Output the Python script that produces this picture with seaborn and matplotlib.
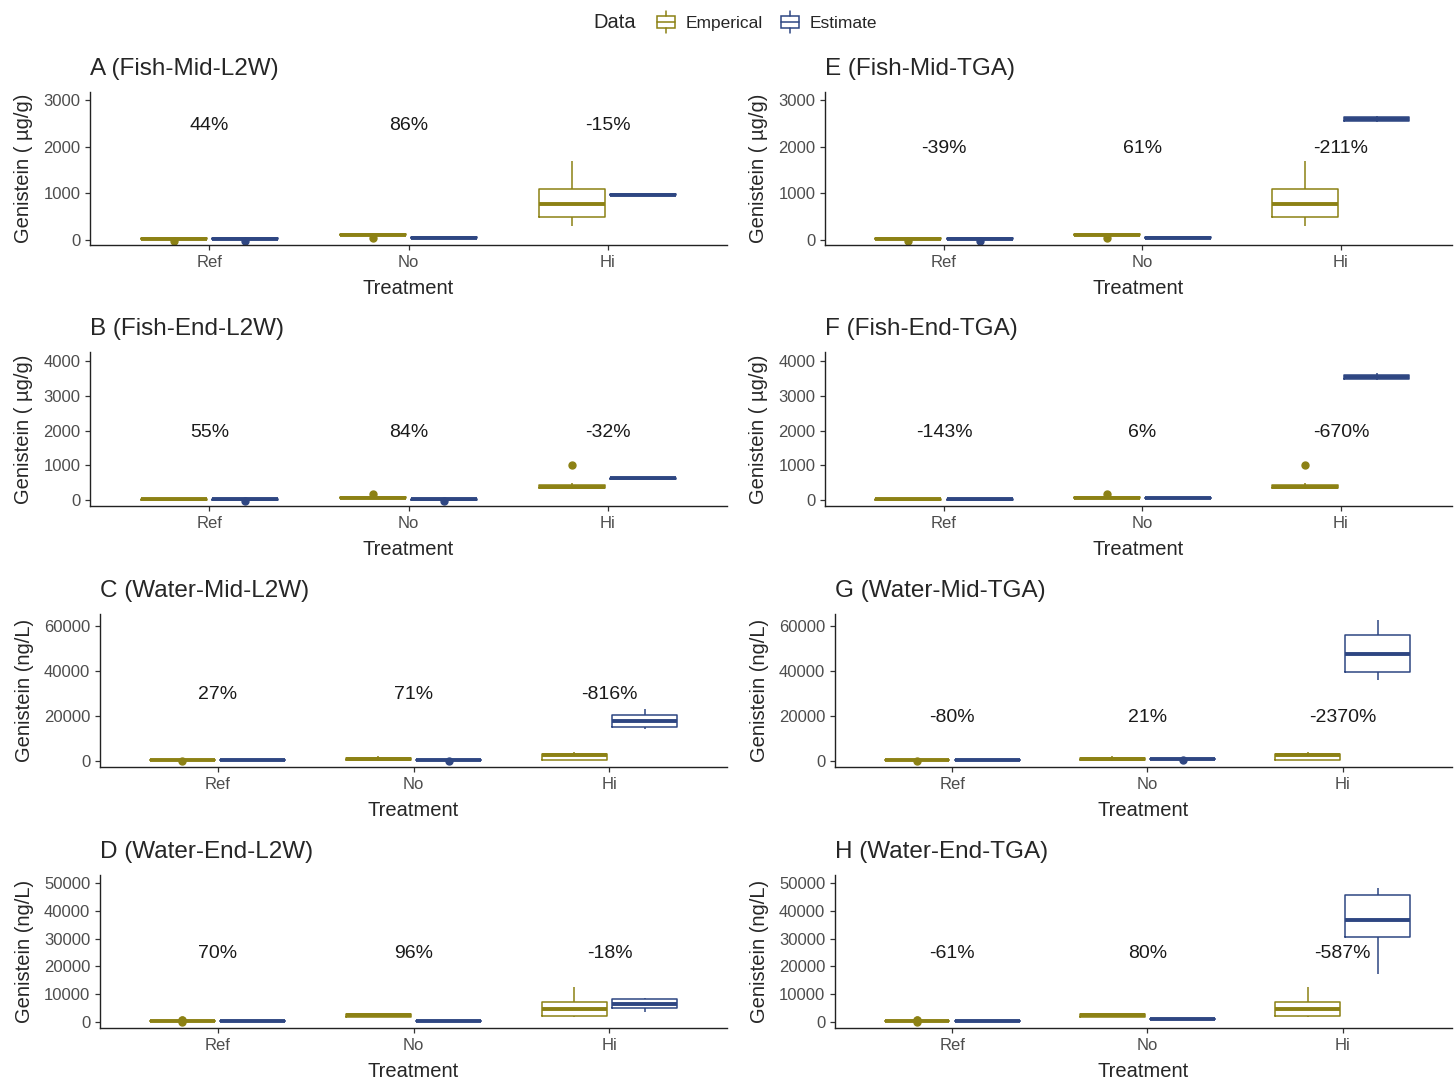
import pandas as pd
import matplotlib
matplotlib.use("Agg")
import matplotlib.pyplot as plt
from matplotlib.patches import Patch, Rectangle
from matplotlib.lines import Line2D
from matplotlib.legend_handler import HandlerBase
import seaborn as sns

# ---------------------------
# Data
# ---------------------------
treatments = ["Ref", "No", "Hi"]
groups = ["Emperical", "Estimate"]
colors = ["#8C8114", "#2E4682"]

# empirical samples (same for L2W and TGA panels), one list per treatment
fish_mid_emp = [[-25, 5, 10, 15, 20, 25, 30, 40, 40],
                [30, 90, 95, 105, 115, 125, 135, 145, 145],
                [290, 480, 770, 1080, 1690]]
fish_end_emp = [[0, 10, 20, 30, 40],
                [30, 40, 50, 60, 70, 80, 90, 100, 170],
                [320, 330, 340, 360, 380, 405, 430, 480, 1000]]
water_mid_emp = [[0, 200, 400, 450, 500, 550, 600, 800, 800],
                 [200, 400, 900, 1500, 2000],
                 [400, 450, 2600, 3300, 4000]]
water_end_emp = [[0, 200, 300, 325, 350, 375, 400, 600, 600],
                 [1800, 1900, 2400, 2800, 2900],
                 [1800, 2160, 4570, 7200, 12600]]

# model estimates
fish_mid_l2w = [[-20, 10, 15, 18, 22, 26, 30, 35, 35],
                [38, 42, 50, 58, 62],
                [955, 962, 970, 978, 985]]
fish_mid_tga = [[-20, 10, 15, 18, 22, 26, 30, 35, 35],
                [38, 42, 50, 58, 62],
                [2520, 2540, 2590, 2640, 2660]]
fish_end_l2w = [[-20, 10, 15, 18, 22, 26, 30, 35, 35],
                [-20, 5, 10, 14, 18, 22, 26, 30, 30],
                [610, 618, 625, 632, 640]]
fish_end_tga = [[10, 15, 20, 25, 30],
                [50, 58, 65, 72, 80],
                [3460, 3470, 3540, 3600, 3650]]
water_mid_l2w = [[350, 400, 450, 500, 550],
                 [0, 300, 350, 400, 450, 500, 550, 600, 600],
                 [14200, 14900, 17760, 20600, 23300]]
water_mid_tga = [[350, 400, 450, 500, 550],
                 [400, 700, 800, 850, 900, 950, 1000, 1100, 1100],
                 [36100, 39550, 47460, 55970, 62540]]
water_end_l2w = [[250, 300, 350, 400, 450],
                 [250, 300, 360, 420, 470],
                 [3600, 5050, 6370, 8170, 8770]]
water_end_tga = [[250, 300, 350, 400, 450],
                 [850, 900, 960, 1020, 1070],
                 [17430, 30410, 36780, 45670, 48200]]

# percentage labels
pct_A = ["44%", "86%", "-15%"]
pct_B = ["55%", "84%", "-32%"]
pct_C = ["27%", "71%", "-816%"]
pct_D = ["70%", "96%", "-18%"]
pct_E = ["-39%", "61%", "-211%"]
pct_F = ["-143%", "6%", "-670%"]
pct_G = ["-80%", "21%", "-2370%"]
pct_H = ["-61%", "80%", "-587%"]

fish_label = "Genistein ( \u00b5g/g)"
water_label = "Genistein (ng/L)"

fish_mid_ticks = [0, 1000, 2000, 3000]
fish_end_ticks = [0, 1000, 2000, 3000, 4000]
water_mid_ticks = [0, 20000, 40000, 60000]
water_end_ticks = [0, 10000, 20000, 30000, 40000, 50000]

# title, empirical, estimate, ylabel, ylim, yticks, labels, label height, axes box in px (l, t, r, b), xlim right
panels = [
    ("A (Fish-Mid-L2W)", fish_mid_emp, fish_mid_l2w, fish_label, (-110, 3170), fish_mid_ticks, pct_A, 2450, (90, 92, 727, 245), 2.6),
    ("B (Fish-End-L2W)", fish_end_emp, fish_end_l2w, fish_label, (-170, 4260), fish_end_ticks, pct_B, 1950, (90, 352, 727, 506), 2.6),
    ("C (Water-Mid-L2W)", water_mid_emp, water_mid_l2w, water_label, (-2670, 65300), water_mid_ticks, pct_C, 29500, (100, 614, 727, 767), 2.6),
    ("D (Water-End-L2W)", water_end_emp, water_end_l2w, water_label, (-2160, 52900), water_end_ticks, pct_D, 24500, (100, 875, 727, 1028), 2.6),
    ("E (Fish-Mid-TGA)", fish_mid_emp, fish_mid_tga, fish_label, (-110, 3170), fish_mid_ticks, pct_E, 1950, (825, 92, 1452, 245), 2.56),
    ("F (Fish-End-TGA)", fish_end_emp, fish_end_tga, fish_label, (-170, 4260), fish_end_ticks, pct_F, 1950, (825, 352, 1452, 506), 2.56),
    ("G (Water-Mid-TGA)", water_mid_emp, water_mid_tga, water_label, (-2670, 65300), water_mid_ticks, pct_G, 19500, (835, 614, 1452, 767), 2.56),
    ("H (Water-End-TGA)", water_end_emp, water_end_tga, water_label, (-2160, 52900), water_end_ticks, pct_H, 24500, (835, 875, 1452, 1028), 2.56),
]


def long_df(emp, est):
    rows = []
    for g, series in zip(groups, [emp, est]):
        for t, vals in zip(treatments, series):
            for v in vals:
                rows.append((t, g, v))
    return pd.DataFrame(rows, columns=["Treatment", "Data", "Genistein"])


class BoxHandler(HandlerBase):
    # small box-and-whisker legend key, like ggplot
    def create_artists(self, legend, orig_handle, xdescent, ydescent,
                       width, height, fontsize, trans):
        c = orig_handle.get_edgecolor()
        x0, y0 = -xdescent, -ydescent
        rect = Rectangle((x0 + width * 0.1, y0 + height * 0.2), width * 0.8, height * 0.6,
                         facecolor="white", edgecolor=c, lw=1.1, transform=trans)
        med = Line2D([x0 + width * 0.1, x0 + width * 0.9], [y0 + height * 0.5] * 2,
                     color=c, lw=1.1, transform=trans)
        w1 = Line2D([x0 + width / 2] * 2, [y0 - height * 0.1, y0 + height * 0.2],
                    color=c, lw=1.1, transform=trans)
        w2 = Line2D([x0 + width / 2] * 2, [y0 + height * 0.8, y0 + height * 1.1],
                    color=c, lw=1.1, transform=trans)
        return [rect, med, w1, w2]


sns.set_style("ticks")
plt.rcParams["font.family"] = ["Liberation Sans", "DejaVu Sans"]

W, H = 1454, 1080
fig = plt.figure(figsize=(W / 100, H / 100), dpi=100)

for title, emp, est, ylab, ylim, yticks, pcts, label_y, box, xr in panels:
    l, t, r, b = box
    ax = fig.add_axes([l / W, 1 - b / H, (r - l) / W, (b - t) / H])
    df = long_df(emp, est)
    sns.boxplot(data=df, x="Treatment", y="Genistein", hue="Data",
                order=treatments, hue_order=groups, palette=colors,
                fill=False, width=0.72, gap=0.08, saturation=1,
                linewidth=1.1, fliersize=5, showcaps=False,
                medianprops=dict(linewidth=2.8),
                legend=False, ax=ax)
    for ln in ax.lines:
        if ln.get_marker() not in (None, "None", ""):
            ln.set_markerfacecolor(ln.get_markeredgecolor())
    for i, txt in enumerate(pcts):
        ax.text(i, label_y, txt, ha="center", va="center", fontsize=14, color="#1a1a1a")
    ax.set_xlim(-0.6, xr)
    ax.set_ylim(*ylim)
    ax.set_yticks(yticks)
    ax.set_title(title, loc="left", fontsize=17.5, pad=12)
    ax.set_xlabel("Treatment", fontsize=14.5, labelpad=7)
    ax.set_ylabel(ylab, fontsize=14.5, labelpad=7)
    ax.tick_params(axis="both", labelsize=12, labelcolor="#4D4D4D",
                   length=3.5, width=0.9, color="#333333")
    for s in ["left", "bottom"]:
        ax.spines[s].set_linewidth(1.0)
        ax.spines[s].set_color("#222222")
    sns.despine(ax=ax)

# legend at the top
handles = [Patch(facecolor="white", edgecolor=c) for c in colors]
fig.text(615 / W, 1 - 22 / H, "Data", ha="center", va="center", fontsize=14.5)
fig.legend(handles, groups, loc="center", bbox_to_anchor=(766 / W, 1 - 22 / H),
           ncol=2, frameon=False, fontsize=12.5, handlelength=1.3, handleheight=1.3,
           columnspacing=0.9, handletextpad=0.5,
           handler_map={Patch: BoxHandler()})

fig.savefig("out.png", dpi=100, facecolor="white")
